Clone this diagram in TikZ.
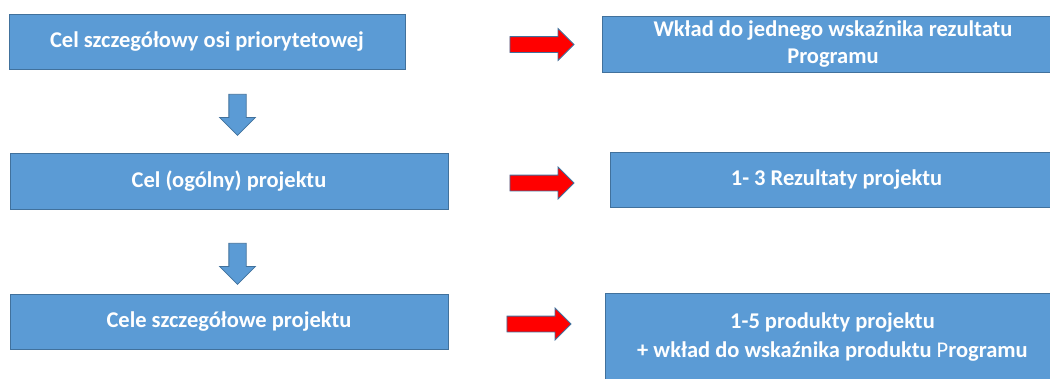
\documentclass[tikz,border=0pt]{standalone}
\usepackage{fontspec}
\setmainfont{Carlito}
\usetikzlibrary{shapes.arrows,positioning}
\definecolor{boxblue}{HTML}{5B9BD5}
\definecolor{edgeblue}{HTML}{41719C}
\definecolor{arrowred}{HTML}{FF0000}
\newcommand{\redarrow}[2]
{
\node[single arrow, draw=edgeblue, fill=arrowred, line width=0.8pt,
  minimum height=64pt, inner xsep=0pt, inner ysep=7.5pt,
  single arrow head extend=8pt] (#1) at (#2) {};
}
\newcommand{\bluedown}[2]
{
\node[single arrow, rotate=-90, draw=edgeblue, fill=boxblue,
  line width=0.8pt, minimum height=41pt, inner xsep=0pt, inner ysep=8.25pt,
  single arrow head extend=9.25pt] (#1) at (#2) {};
}

\begin{document}
\begin{tikzpicture}[
  x=1pt, y=-1pt,
  goalbox/.style={draw=edgeblue, fill=boxblue, line width=0.8pt, inner sep=0pt,
    text=white, font=\fontsize{22.5}{27}\selectfont\bfseries, align=center},
  boxtext/.style={text=white, font=\fontsize{22.5}{29}\selectfont\bfseries,
    align=center, inner sep=0pt}
  ]
  \useasboundingbox (0,0) rectangle (1050,378);

  \node[goalbox, minimum width=396pt, minimum height=55pt] (osi) at (207,41.5)
    {Cel szczegółowy osi priorytetowej};
  \node[goalbox, minimum width=438pt, minimum height=56pt] (ogolny) at (229,181)
    {Cel (ogólny) projektu};
  \node[goalbox, minimum width=438pt, minimum height=55pt] (szczeg) at (229,321.5)
    {Cele szczegółowe projektu};

  \node[goalbox, minimum width=462pt, minimum height=56pt] (wklad) at (833,44)
    {Wkład do jednego wskaźnika rezultatu\\Programu};
  \node[goalbox, minimum width=453pt, minimum height=55pt] (rezultaty) at (836.5,179.5)
    {1- 3 Rezultaty projektu};
  \node[goalbox, minimum width=455pt, minimum height=97pt] (produkty) at (832.5,341.5) {};
  \node[boxtext, below=20pt of produkty.north] (produktytxt)
    {1-5 produkty projektu\\+ wkład do wskaźnika produktu {\mdseries P}rogramu};

  \redarrow{toWklad}{538,44.5}
  \redarrow{toRezultaty}{538,183}
  \redarrow{toProdukty}{535,324}

  \bluedown{down1}{237.5,110.5}
  \bluedown{down2}{237.5,259.5}

\end{tikzpicture}
\end{document}
